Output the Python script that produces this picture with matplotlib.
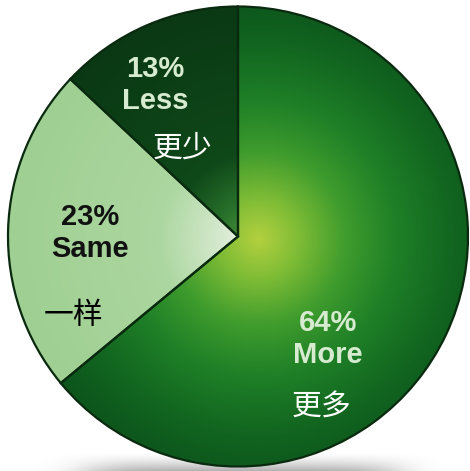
import matplotlib
matplotlib.use('Agg')

import matplotlib.pyplot as plt
import numpy as np
from matplotlib.colors import LinearSegmentedColormap

labels = ['Less', 'Same', 'More']
labels_cn = ['更少', '一样', '更多']
shares = [13, 23, 64]

# colour ramps for each slice, from the bright centre out to the rim
ramps = [
	[(0, '#5ea040'), (0.15, '#2a742c'), (0.35, '#0f4819'), (1, '#0a3814')],
	[(0, '#f2f6ee'), (0.15, '#d6e9cf'), (0.4, '#acd7a0'), (1, '#9fcf92')],
	[(0, '#b3d03f'), (0.15, '#82be36'), (0.35, '#3f9c2d'), (0.55, '#1f8027'), (0.8, '#11641f'), (1, '#0c531c')],
]
text_colors = ['#d6ebcf', '#111111', '#d6ebcf']
cn_colors = ['white', 'black', 'white']

# pie geometry in pixels (centre and radius), used to lay out the axes
cx, cy, rad = 238, 236.5, 230
W, H = 470, 471

def px(x, y):
	return (x - cx) / rad, -(y - cy) / rad

fig = plt.figure(figsize=(W / 100, H / 100), dpi=100)
ax = fig.add_axes([0, 0, 1, 1])

wedges, _ = ax.pie(shares, startangle=90, counterclock=True, radius=1,
	wedgeprops=dict(facecolor='none', edgecolor='#0a2a0f', linewidth=1.6, zorder=3))

# radial gradient, brightest a little right of the centre
n = 700
g = np.linspace(-1.05, 1.05, n)
X, Y = np.meshgrid(g, g)
R = np.clip(np.hypot(X - 0.09, Y + 0.01) / 1.08, 0, 1)

for w, ramp in zip(wedges, ramps):
	cmap = LinearSegmentedColormap.from_list('ramp', ramp)
	im = ax.imshow(R, cmap=cmap, vmin=0, vmax=1, extent=(-1.05, 1.05, -1.05, 1.05),
		origin='lower', interpolation='bilinear', zorder=1)
	im.set_clip_path(w)

# soft grey shadow strip under the pie
sx = np.linspace(0, 1, 400)
sy = np.linspace(0, 1, 40)
SX, SY = np.meshgrid(sx, sy)
alpha = np.exp(-((SX - 0.5) / 0.36) ** 6) * SY ** 1.5 * 0.55
shadow = np.zeros((40, 400, 4))
shadow[..., :3] = 0.45
shadow[..., 3] = alpha
x0, y0 = px(20, 471)
x1, y1 = px(462, 452)
ax.imshow(shadow, extent=(x0, x1, y0, y1), origin='upper', interpolation='bilinear', zorder=0)

# labels
pct_pos = [(155, 85), (90, 233), (328, 339)]
cn_pos = [(183, 148), (74, 315), (322, 407)]
for name, cn, v, tc, cc, p, q in zip(labels, labels_cn, shares, text_colors, cn_colors, pct_pos, cn_pos):
	ax.text(*px(*p), f"{v}%\n{name}", ha='center', va='center', color=tc,
		fontsize=21, fontweight='bold', family='Liberation Sans', linespacing=1.2, zorder=4)
	ax.text(*px(*q), cn, ha='center', va='center', color=cc,
		fontsize=21.5, family=['Noto Sans CJK SC', 'DejaVu Sans'], zorder=4)

ax.set_xlim(-cx / rad, (W - cx) / rad)
ax.set_ylim(-(H - cy) / rad, cy / rad)
ax.set_aspect('auto')
ax.axis('off')

plt.savefig("out.png", dpi=100, facecolor='white')
